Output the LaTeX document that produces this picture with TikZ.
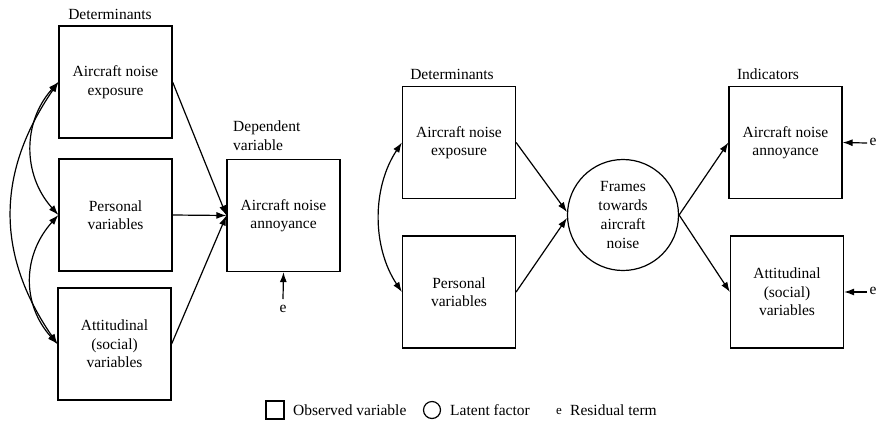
\documentclass[tikz,border=0pt]{standalone}
\usepackage{fontspec}
\setmainfont{Liberation Serif}
\newfontfamily\tnr{Liberation Serif}
\usetikzlibrary{arrows.meta}
\begin{document}
\begin{tikzpicture}[x=1pt,y=-1pt,
 box/.style={draw, line width=1.2pt, minimum width=113pt, minimum height=112pt, inner sep=0pt, align=center, font=\tnr\fontsize{15.5}{18.5}\selectfont},
 lbl/.style={font=\tnr\fontsize{15.5}{18.5}\selectfont, inner sep=0pt},
 arr/.style={line width=1.2pt, -{Latex[length=10pt,width=7pt]}},
 darr/.style={line width=1.2pt, {Latex[length=10pt,width=7pt]}-{Latex[length=10pt,width=7pt]}}]
\useasboundingbox (0,0) rectangle (877,421);
% left model
\node[box] (b1) at (115.5,82) {Aircraft noise\\exposure};
\node[box] (b2) at (115.5,215) {Personal\\variables};
\node[box] (b3) at (114.5,344) {Attitudinal\\(social)\\variables};
\node[box] (dep) at (283.5,215.5) {Aircraft noise\\annoyance};
\node[lbl] (det1) at (110,14) {Determinants};
\node[lbl, align=left, anchor=north west] (deplbl) at (233,121) {Dependent\\variable};
\node[lbl] (e1) at (283,309) {e};
\coordinate (e1s) at (283,299);
\draw[arr] (e1s) -- (dep.south);
\draw[arr] (b1.east) -- (dep.west);
\draw[arr] (b2.east) -- (dep.west);
\draw[arr] (b3.east) -- (dep.west);
\draw[darr] (b1.west) .. controls +(-36,40) and +(-36,-40) .. (b2.west);
\draw[darr] (b2.west) .. controls +(-36,40) and +(-36,-40) .. (b3.west);
\draw[darr] (b1.west) .. controls +(-62,90) and +(-62,-90) .. (b3.west);
% right model
\node[box] (b4) at (459,142.5) {Aircraft noise\\exposure};
\node[box] (b5) at (459,292) {Personal\\variables};
\node[draw, circle, line width=1.2pt, minimum size=111pt, inner sep=0pt, align=center, font=\tnr\fontsize{15.5}{19}\selectfont] (lf) at (623,215) {Frames\\towards\\aircraft\\noise};
\node[box] (b6) at (785.5,142.5) {Aircraft noise\\annoyance};
\node[box] (b7) at (787,292) {Attitudinal\\(social)\\variables};
\node[lbl] (det2) at (452,74) {Determinants};
\node[lbl] (ind) at (768,74) {Indicators};
\node[lbl] (e2) at (873,142) {e};
\coordinate (e2s) at (867,143);
\draw[arr] (e2s) -- (b6.east);
\node[lbl] (e3) at (873,291) {e};
\coordinate (e3s) at (867,292);
\draw[arr] (e3s) -- (b7.east);
\draw[darr] (b4.west) .. controls +(-30,45) and +(-30,-45) .. (b5.west);
\draw[arr] (b4.east) -- (lf.177);
\draw[arr] (b5.east) -- (lf.183);
\draw[arr] (lf.east) -- (b6.west);
\draw[arr] (lf.east) -- (b7.west);
% legend
\node[draw, line width=1.2pt, minimum size=18pt, inner sep=0pt] (ls) at (275,410) {};
\node[lbl, anchor=base west] (lst) at (293,415) {Observed variable};
\node[draw, circle, line width=1.2pt, minimum size=17pt, inner sep=0pt] (lc) at (432,410) {};
\node[lbl, anchor=base west] (lct) at (450,415) {Latent factor};
\node[lbl, anchor=base] (le) at (559,414) {\fontsize{13}{15}\selectfont e};
\node[lbl, anchor=base west] (let) at (570,415) {Residual term};
\end{tikzpicture}
\end{document}
